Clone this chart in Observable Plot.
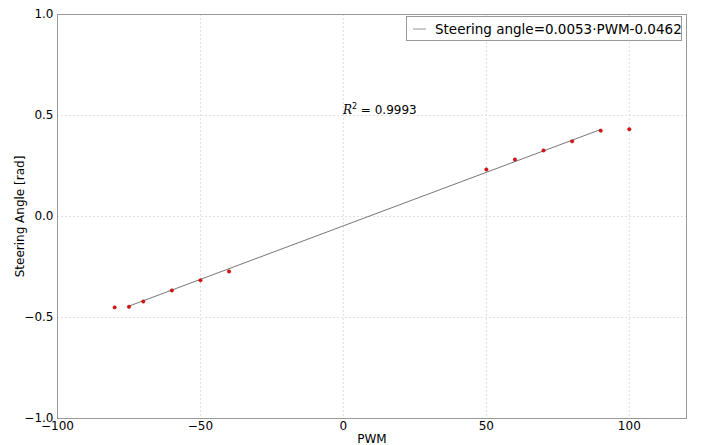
<!DOCTYPE html>
<html>
<head>
<meta charset="utf-8">
<script src="https://cdn.jsdelivr.net/npm/d3@7"></script>
<script src="https://cdn.jsdelivr.net/npm/@observablehq/plot@0.6"></script>
<style>
  html, body { margin: 0; padding: 0; background: #fff; }
  #chart { position: relative; width: 702px; height: 445px; }
</style>
</head>
<body>
<div id="chart"></div>
<script>
const pwm = [-80, -75, -70, -60, -50, -40, 50, 60, 70, 80, 90, 100];
const angle = [-0.450, -0.447, -0.421, -0.366, -0.316, -0.272, 0.233, 0.282, 0.327, 0.372, 0.425, 0.432];
const slope = 0.0053;
const intercept = -0.0462;
const fitRange = [-75, 90];
const r2Label = "0.9993";
const legendLabel = "Steering angle=0.0053·PWM-0.0462";
const xTicks = [-100, -50, 0, 50, 100];
const yTicks = [-1.0, -0.5, 0.0, 0.5, 1.0];

const points = pwm.map((p, i) => ({pwm: p, angle: angle[i]}));
const fit = fitRange.map(p => ({pwm: p, angle: slope * p + intercept}));

const font = "DejaVu Sans, sans-serif";
const plot = Plot.plot({
  width: 702,
  height: 445,
  marginLeft: 57,
  marginRight: 16,
  marginTop: 14,
  marginBottom: 27,
  style: {fontFamily: font, fontSize: "11px", color: "#000", background: "#fff"},
  x: {domain: [-100, 120], ticks: xTicks, tickFormat: d3.format("d")},
  y: {domain: [-1, 1], ticks: yTicks, tickFormat: d3.format(".1f")},
  marks: [
    Plot.gridX(xTicks, {stroke: "#d8d8d8", strokeOpacity: 1, strokeWidth: 0.8, strokeDasharray: "2,2"}),
    Plot.gridY(yTicks, {stroke: "#d8d8d8", strokeOpacity: 1, strokeWidth: 0.8, strokeDasharray: "2,2"}),
    Plot.line(fit, {x: "pwm", y: "angle", stroke: "#666", strokeWidth: 0.9}),
    Plot.dot(points, {x: "pwm", y: "angle", r: 1.7, fill: "#e01010", stroke: "#a00", strokeWidth: 0.5}),
    Plot.frame({stroke: "#999", strokeWidth: 1}),
    Plot.axisX({ticks: xTicks, tickFormat: d3.format("d"), tickSize: 0, tickPadding: 3, label: "PWM", labelAnchor: "center", labelArrow: "none", labelOffset: 24, fontSize: 12}),
    Plot.axisY({ticks: yTicks, tickFormat: d3.format(".1f"), tickSize: 0, tickPadding: 4, label: "Steering Angle [rad]", labelAnchor: "center", labelArrow: "none", labelOffset: 42, fontSize: 12})
  ]
});
document.getElementById("chart").appendChild(plot);

// R² annotation and legend drawn into the SVG
const svg = d3.select(plot);
const xs = plot.scale("x"), ys = plot.scale("y");
const rt = svg.append("text")
  .attr("x", xs.apply(0))
  .attr("y", ys.apply(0.5) - 1)
  .attr("text-anchor", "start")
  .attr("font-family", font)
  .attr("font-size", 12)
  .attr("fill", "#000");
rt.append("tspan").attr("font-family", "DejaVu Serif, serif").attr("font-style", "italic").text("R");
rt.append("tspan").attr("dy", -5).attr("font-size", 8).text("2");
rt.append("tspan").attr("dy", 5).text(" = " + r2Label);

const lg = svg.append("g");
lg.append("rect").attr("x", 406.5).attr("y", 16.5).attr("width", 275).attr("height", 24)
  .attr("fill", "#fff").attr("stroke", "#999").attr("stroke-width", 1);
lg.append("line").attr("x1", 413).attr("x2", 426).attr("y1", 29).attr("y2", 29)
  .attr("stroke", "#888").attr("stroke-width", 0.9);
lg.append("text").attr("x", 435).attr("y", 33.5).attr("text-anchor", "start")
  .attr("font-family", font).attr("font-size", 13.5)
  .attr("fill", "#000").text(legendLabel);
</script>
</body>
</html>
